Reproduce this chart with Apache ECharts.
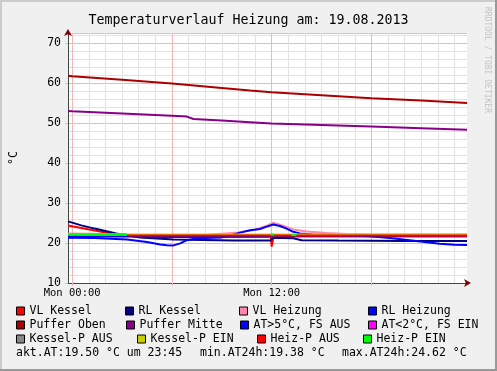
<!DOCTYPE html>
<html><head><meta charset="utf-8">
<script src="https://cdn.jsdelivr.net/npm/echarts@6/dist/echarts.min.js"></script>
<style>html,body{margin:0;padding:0;background:#f0f0f0}#c{width:497px;height:371px}</style>
</head><body><div id="c"></div>
<script>
// ---------- data (hours since Mon 00:00, values in °C) ----------
const xTickHours = [0, 12];
const xTickLabels = ['Mon 00:00', 'Mon 12:00'];
const majorHours = [0, 6, 12, 18];
const minorHours = [1,2,3,4,5,7,8,9,10,11,13,14,15,16,17,19,20,21,22,23];

const pufferObenHours = [-0.25, 0, 3, 6, 9, 10.7, 12, 15, 18, 21, 23.75];
const pufferObenVals  = [61.8, 61.7, 60.8, 59.9, 58.75, 58.1, 57.7, 56.95, 56.2, 55.6, 55.0];

const pufferMitteHours = [-0.25, 0, 3, 6, 6.9, 7.3, 9, 10.7, 12, 15, 18, 21, 23.75];
const pufferMitteVals  = [53.0, 52.95, 52.4, 51.8, 51.6, 51.0, 50.6, 50.2, 49.85, 49.5, 49.1, 48.7, 48.3];

const rlKesselHours = [-0.25, 0.55, 1.35, 2.65, 4.1, 6.1, 9.7, 11.95, 12.05, 13.3, 13.8, 16, 20, 23.75];
const rlKesselVals  = [25.4, 24.4, 23.6, 22.4, 21.4, 20.9, 20.6, 20.6, 21.3, 21.2, 20.7, 20.6, 20.5, 20.5];

const vlKesselHours = [-0.25, 0.55, 1.35, 2.15, 3.3, 5, 8, 11, 11.95, 12.0, 12.1, 13, 16, 20, 23.75];
const vlKesselVals  = [24.4, 23.75, 23.1, 22.5, 21.8, 21.6, 21.5, 21.5, 21.5, 19.1, 21.3, 21.6, 21.6, 21.6, 21.6];

const vlHeizungHours = [-0.25, 1, 2, 4, 8, 10, 11, 11.7, 12.1, 12.5, 12.9, 13.3, 14.1, 15.3, 16.5, 18, 23.75];
const vlHeizungVals  = [22.4, 22.3, 22.1, 22.0, 22.0, 22.6, 23.3, 24.3, 25.1, 24.6, 24.0, 23.4, 22.9, 22.5, 22.25, 22.1, 22.1];

const rlHeizungHours = [-0.25, 3, 6, 9, 12, 15, 18, 21, 23.75];
const rlHeizungVals  = [21.7, 21.6, 21.5, 21.6, 21.8, 21.85, 21.85, 21.85, 21.85];

const atHours = [-0.25, 1.35, 3.3, 4.5, 5.3, 5.7, 6.1, 6.5, 6.9, 7.5, 9.0, 9.5, 10.1, 10.7, 11.3, 11.7, 12.1, 12.5, 12.9, 13.3, 13.7, 14.5, 16, 17.9, 19.1, 20.3, 21.2, 22.1, 23.0, 23.75];
const atVals  = [21.3, 21.25, 20.9, 20.25, 19.6, 19.45, 19.4, 19.9, 20.7, 21.2, 21.4, 21.9, 22.6, 23.2, 23.5, 24.1, 24.62, 24.25, 23.6, 22.8, 22.4, 22.1, 22.0, 21.7, 21.25, 20.7, 20.25, 19.8, 19.55, 19.5];

const atColdHours = [];
const atColdVals  = [];
const kesselPAusHours = [];
const kesselPAusVals  = [];
const kesselPEinHours = [-0.25, 23.75];
const kesselPEinVals  = [22.1, 22.1];
const heizPAusHours = [3.3, 23.75];
const heizPAusVals  = [21.85, 21.85];
const heizPEinHours = [-0.25, 3.3, 3.31, 11.95, 12.15, 12.16, 13.2, 13.5];
const heizPEinVals  = [22.2, 22.2, null, 22.1, 22.1, null, 22.0, 22.0];

const footerTexts = ['akt.AT:19.50 °C um 23:45', 'min.AT24h:19.38 °C', 'max.AT24h:24.62 °C'];

// ---------- styling / layout ----------
const MONO = 'DejaVu Sans Mono';
const MGRID = '#f2b8b8';
const GRID = '#e2e2e2';
const AXIS = '#3a4a44';
const ARROW = '#7F0000';

const seriesDefs = [
  ['VL Kessel', '#ff0000', vlKesselHours, vlKesselVals],
  ['RL Kessel', '#000080', rlKesselHours, rlKesselVals],
  ['VL Heizung', '#ff88aa', vlHeizungHours, vlHeizungVals],
  ['RL Heizung', '#0000ff', rlHeizungHours, rlHeizungVals],
  ['Puffer Oben', '#aa0000', pufferObenHours, pufferObenVals],
  ['Puffer Mitte', '#880088', pufferMitteHours, pufferMitteVals],
  ['AT>5°C, FS AUS', '#0000ff', atHours, atVals],
  ['AT<2°C, FS EIN', '#ff00ff', atColdHours, atColdVals],
  ['Kessel-P AUS', '#888888', kesselPAusHours, kesselPAusVals],
  ['Kessel-P EIN', '#cccc00', kesselPEinHours, kesselPEinVals],
  ['Heiz-P AUS', '#ff0000', heizPAusHours, heizPAusVals],
  ['Heiz-P EIN', '#00ff00', heizPEinHours, heizPEinVals]
];
const legendPos = [[16,305],[125,305],[239,305],[368,305],[16,319],[126,319],[240,319],[368,319],[16,333],[137,333],[257,333],[363,333]];
const footerLeft = [16, 200, 342];

const series = seriesDefs.map(([name, color, hs, vs]) => ({
  type: 'line', name, symbol: 'none', showSymbol: false, connectNulls: false,
  data: hs.map((h, i) => [h, vs[i]]),
  lineStyle: { width: 2, color }, itemStyle: { color },
  emphasis: { disabled: true }, animation: false, z: 3
}));
// vertical grid via markLines on the x scale
series.unshift({
  type: 'line', name: '_grid', data: [], silent: true, z: 1,
  markLine: {
    silent: true, symbol: ['none', 'none'], label: { show: false }, z: 1, animation: false,
    emphasis: { disabled: true },
    data: minorHours.map(h => ({ xAxis: h, lineStyle: { color: GRID, width: 1, type: 'solid' } }))
      .concat(majorHours.map(h => ({ xAxis: h, lineStyle: { color: MGRID, width: 1, type: 'solid' } })))
  }
});

const legends = seriesDefs.map(([name], i) => ({
  data: [name], left: legendPos[i][0], top: legendPos[i][1], padding: 0, itemGap: 0,
  icon: 'rect', itemWidth: 8, itemHeight: 8, selectedMode: false,
  itemStyle: { borderColor: '#000', borderWidth: 1 },
  textStyle: { fontFamily: MONO, fontSize: 11.5, color: '#000', lineHeight: 12 }
}));

const graphics = [
  { type: 'rect', left: 0, top: 0, shape: { width: 2, height: 371 }, style: { fill: '#cbcbcb' }, silent: true },
  { type: 'rect', left: 0, top: 0, shape: { width: 497, height: 2 }, style: { fill: '#cbcbcb' }, silent: true },
  { type: 'rect', right: 0, top: 0, shape: { width: 2, height: 371 }, style: { fill: '#999999' }, silent: true },
  { type: 'rect', left: 0, bottom: 0, shape: { width: 497, height: 2 }, style: { fill: '#999999' }, silent: true },
  { type: 'text', x: 487, y: 7, rotation: -Math.PI / 2, silent: true,
    style: { text: 'RRDTOOL / TOBI OETIKER', font: '8px ' + MONO, fill: '#c4c4c4', align: 'left', verticalAlign: 'middle' } }
].concat(footerTexts.map((t, i) => ({
  type: 'text', left: footerLeft[i], top: 347, silent: true,
  style: { text: t, font: '11.5px ' + MONO, fill: '#000' }
})));

const chart = echarts.init(document.getElementById('c'), null, { renderer: 'canvas' });
chart.setOption({
  backgroundColor: '#f0f0f0',
  animation: false,
  title: { text: 'Temperaturverlauf Heizung am: 19.08.2013', left: 'center', top: 9,
    textStyle: { fontFamily: MONO, fontSize: 13.3, fontWeight: 'normal', color: '#000' } },
  grid: { left: 67, right: 30, top: 33, bottom: 88, show: true, backgroundColor: '#fff', borderWidth: 0 },
  xAxis: [
    { type: 'value', min: -0.25, max: 23.75, position: 'bottom',
      splitLine: { show: false },
      axisLine: { show: true, onZero: false, lineStyle: { color: AXIS, width: 1 } },
      axisTick: { show: true, customValues: majorHours, length: 3, inside: false, lineStyle: { color: MGRID } },
      axisLabel: { customValues: xTickHours, margin: 5, fontFamily: MONO, fontSize: 10.5, color: '#000',
        formatter: v => { const i = xTickHours.indexOf(v); return i >= 0 ? xTickLabels[i] : ''; } } },
    { type: 'value', min: -0.25, max: 23.75, position: 'bottom',
      splitLine: { show: false }, axisTick: { show: false }, axisLabel: { show: false },
      axisLine: { show: true, onZero: false, symbol: ['none', 'arrow'], symbolSize: [6, 7], symbolOffset: [0, 4],
        lineStyle: { color: ARROW, width: 1, opacity: 0 } } }
  ],
  yAxis: [
    { type: 'value', min: 10, max: 72.5, interval: 2, position: 'left',
      splitLine: { show: true, lineStyle: { color: GRID, width: 1 } },
      axisTick: { show: false }, axisLabel: { show: false },
      axisLine: { show: true, onZero: false, symbol: ['none', 'arrow'], symbolSize: [6, 7], symbolOffset: [0, 4],
        lineStyle: { color: ARROW, width: 1, opacity: 0 } } },
    { type: 'value', min: 10, max: 72.5, interval: 10, position: 'left',
      name: '°C', nameLocation: 'middle', nameGap: 48,
      nameTextStyle: { fontFamily: MONO, fontSize: 11.5, color: '#000' },
      splitLine: { show: true, lineStyle: { color: MGRID, width: 1 } },
      axisLine: { show: true, onZero: false, lineStyle: { color: AXIS, width: 1 } },
      axisTick: { show: true, length: 3, lineStyle: { color: MGRID } },
      axisLabel: { margin: 7, fontFamily: MONO, fontSize: 11.5, color: '#000',
        formatter: v => (Math.abs(v % 10) < 1e-9 ? String(v) : '') } }
  ],
  legend: legends,
  graphic: graphics,
  series: series
});
</script></body></html>
